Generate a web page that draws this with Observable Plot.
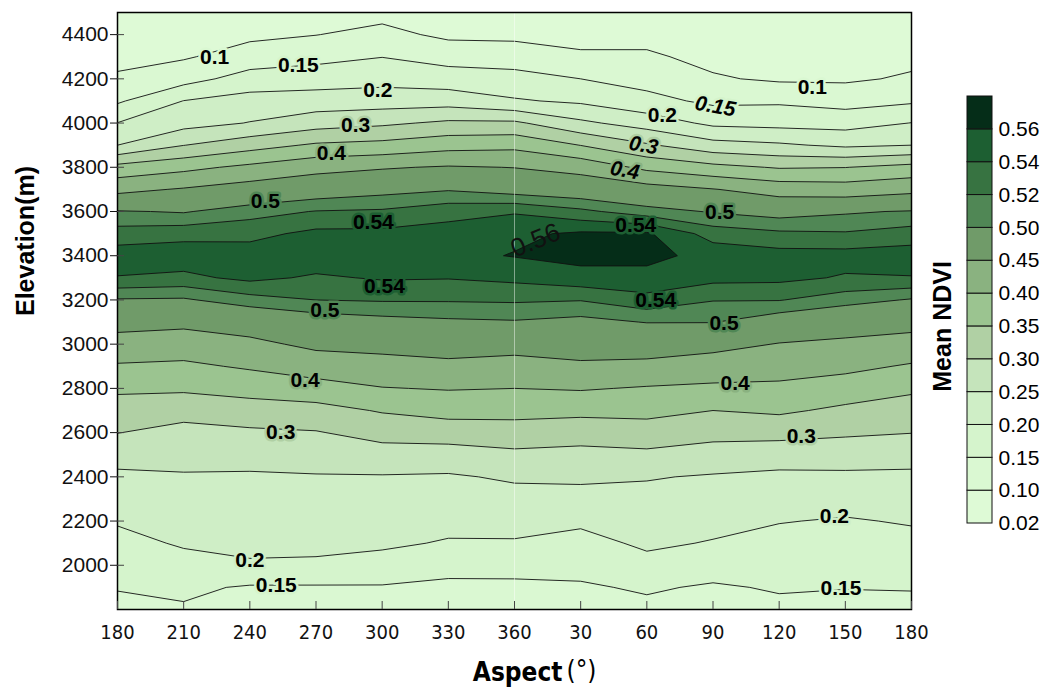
<!DOCTYPE html>
<html>
<head>
<meta charset="utf-8">
<script src="https://cdn.jsdelivr.net/npm/d3@7"></script>
<script src="https://cdn.jsdelivr.net/npm/@observablehq/plot@0.6"></script>
<style>
  body { margin: 0; background: #fff; }
  #wrap { position: relative; width: 1044px; height: 688px; overflow: hidden; }
  #main { position: absolute; left: 0; top: 0; }
  #bar { position: absolute; left: 930px; top: 0; }
</style>
</head>
<body>
<div id="wrap"><div id="main"></div><div id="bar"></div></div>
<script>
// ---------------- DATA ----------------
// elevation rows (m), top to bottom
const elevations = [4500,4400,4300,4200,4100,4000,3900,3800,3700,3600,3500,3400,3300,3200,3100,3000,2900,2800,2700,2600,2500,2400,2300,2200,2100,2000,1900,1800];
// aspect columns on the unwrapped axis (0 = 180° on the left, 180 = 360°, 360 = 180° on the right)
const aspectPositions = [0,30,60,90,120,150,180,210,240,270,300,330,360];
const aspectLabels = ["180","210","240","270","300","330","360","30","60","90","120","150","180"];
const elevTicks = [2000,2200,2400,2600,2800,3000,3200,3400,3600,3800,4000,4200,4400];

// mean NDVI per aspect column, one value per elevation row
const ndvi180W = [0.060,0.075,0.088,0.106,0.143,0.201,0.250,0.366,0.438,0.502,0.529,0.550,0.539,0.498,0.466,0.432,0.395,0.358,0.329,0.301,0.267,0.241,0.222,0.204,0.186,0.169,0.152,0.140];
const ndvi210  = [0.065,0.080,0.095,0.131,0.201,0.232,0.299,0.387,0.454,0.498,0.533,0.552,0.535,0.497,0.461,0.426,0.391,0.358,0.316,0.286,0.265,0.246,0.232,0.218,0.205,0.184,0.159,0.145];
const ndvi240  = [0.070,0.090,0.121,0.171,0.219,0.252,0.330,0.411,0.472,0.512,0.534,0.550,0.545,0.512,0.473,0.439,0.406,0.368,0.328,0.292,0.265,0.245,0.234,0.222,0.211,0.195,0.145,0.135];
const ndvi270  = [0.075,0.099,0.135,0.177,0.223,0.278,0.357,0.435,0.484,0.521,0.545,0.553,0.537,0.520,0.486,0.460,0.425,0.380,0.333,0.297,0.270,0.247,0.235,0.223,0.211,0.193,0.145,0.135];
const ndvi300  = [0.085,0.114,0.149,0.184,0.226,0.291,0.365,0.446,0.492,0.523,0.545,0.553,0.542,0.522,0.492,0.464,0.433,0.398,0.354,0.317,0.280,0.247,0.234,0.221,0.208,0.182,0.146,0.135];
const ndvi330  = [0.075,0.090,0.131,0.174,0.228,0.309,0.382,0.454,0.498,0.533,0.548,0.555,0.541,0.522,0.496,0.469,0.440,0.403,0.367,0.324,0.278,0.245,0.229,0.214,0.196,0.165,0.140,0.130];
const ndvi360  = [0.070,0.088,0.128,0.166,0.205,0.309,0.387,0.449,0.489,0.538,0.556,0.561,0.545,0.523,0.498,0.466,0.434,0.400,0.366,0.328,0.290,0.256,0.235,0.216,0.196,0.166,0.140,0.130];
const ndvi30   = [0.070,0.085,0.107,0.150,0.192,0.260,0.349,0.434,0.482,0.525,0.563,0.566,0.553,0.521,0.493,0.470,0.443,0.404,0.363,0.321,0.286,0.259,0.233,0.208,0.185,0.163,0.145,0.135];
const ndvi60   = [0.070,0.085,0.107,0.132,0.165,0.228,0.306,0.388,0.470,0.509,0.563,0.566,0.553,0.534,0.501,0.472,0.439,0.396,0.364,0.328,0.290,0.253,0.237,0.223,0.208,0.186,0.155,0.140];
const ndvi90   = [0.060,0.073,0.087,0.105,0.140,0.189,0.268,0.364,0.452,0.498,0.531,0.553,0.546,0.521,0.501,0.464,0.428,0.391,0.350,0.316,0.278,0.246,0.230,0.214,0.197,0.169,0.145,0.135];
const ndvi120  = [0.055,0.067,0.080,0.093,0.143,0.184,0.257,0.346,0.430,0.490,0.524,0.548,0.545,0.521,0.485,0.448,0.420,0.390,0.358,0.316,0.272,0.240,0.221,0.202,0.185,0.170,0.154,0.140];
const ndvi150  = [0.055,0.067,0.080,0.093,0.131,0.181,0.241,0.349,0.425,0.497,0.522,0.548,0.538,0.509,0.473,0.441,0.412,0.377,0.340,0.307,0.272,0.241,0.218,0.196,0.181,0.166,0.151,0.140];
const ndvi180E = [0.060,0.075,0.088,0.106,0.143,0.201,0.250,0.366,0.438,0.502,0.529,0.550,0.539,0.498,0.466,0.432,0.395,0.358,0.329,0.301,0.267,0.241,0.222,0.204,0.186,0.169,0.152,0.140];

// contour levels and colour-bar labels
const levels = [0.02,0.10,0.15,0.20,0.25,0.30,0.35,0.40,0.45,0.50,0.52,0.54,0.56];
const legendLabels = ["0.02","0.10","0.15","0.20","0.25","0.30","0.35","0.40","0.45","0.50","0.52","0.54","0.56"];

// contour labels (text, aspect position, elevation)
const labelText   = ["0.1","0.15","0.2","0.3","0.4","0.5","0.54","0.54","0.5","0.4","0.3","0.2","0.15","0.1","0.2","0.5","0.54","0.54","0.5","0.4","0.3","0.2","0.15"];
const labelAspect = [44,82,118,108,97,67,116,121,94,85,74,60,72,315,247,273,235,244,275,280,310,325,328];
const labelElev   = [4297,4260,4147,3989,3862,3645,3550,3261,3152,2836,2601,2022,1909,4161,4034,3596,3537,3198,3094,2822,2582,2221,1895];
const italicText   = ["0.15","0.3","0.4"];
const italicAspect = [271,238.5,230];
const italicElev   = [4075,3899,3786];
const peakText = ["0.56"];
const peakAspect = [189.5];
const peakElev = [3469];
const seamAspect = [180];

// ---------------- COLOURS ----------------
const bandColors = ["#defad6","#daf8d2","#d5f4cc","#cfeec6","#c5e4bb","#b0d0a4","#9bc490","#8ab280","#709b69","#508755","#377341","#1d5f32","#052d18"];

// ---------------- BUILD ----------------
const columns = [ndvi180W,ndvi210,ndvi240,ndvi270,ndvi300,ndvi330,ndvi360,ndvi30,ndvi60,ndvi90,ndvi120,ndvi150,ndvi180E];
const nCols = columns.length, nRows = elevations.length;
const grid = [];
for (let r = 0; r < nRows; r++) for (let c = 0; c < nCols; c++) grid.push(columns[c][r]);
const stepA = aspectPositions[1] - aspectPositions[0];
const stepE = elevations[0] - elevations[1];

const labels = labelText.map((t, i) => ({t, a: labelAspect[i], e: labelElev[i]}));
const italics = italicText.map((t, i) => ({t, a: italicAspect[i], e: italicElev[i]}));
const peaks = peakText.map((t, i) => ({t, a: peakAspect[i], e: peakElev[i]}));

const font = "'Liberation Sans', Arial, sans-serif";
const narrow = "'Liberation Sans Narrow', 'Arial Narrow', 'DejaVu Sans Condensed', sans-serif";

const main = Plot.plot({
  width: 930, height: 688,
  marginLeft: 117, marginRight: 19, marginTop: 12, marginBottom: 79,
  style: {fontFamily: font, background: "white", overflow: "visible"},
  x: {domain: [0, 360]},
  y: {domain: [1800, 4500]},
  color: {type: "threshold", domain: levels.slice(1), range: bandColors},
  marks: [
    Plot.contour(grid, {
      width: nCols, height: nRows,
      x1: aspectPositions[0] - stepA / 2, x2: aspectPositions[nCols - 1] + stepA / 2,
      y1: elevations[0] + stepE / 2, y2: elevations[nRows - 1] - stepE / 2,
      fill: Plot.identity, stroke: "#111", strokeWidth: 0.9,
      thresholds: levels, clip: true
    }),
    Plot.ruleX(seamAspect, {x: d => d, stroke: "#fff", strokeOpacity: 0.45, strokeWidth: 1}),
    Plot.text(labels, {x: "a", y: "e", text: "t", fontSize: 21, fontWeight: "bold", fill: "#000",
      stroke: d => +d.t, strokeWidth: 5, paintOrder: "stroke"}),
    Plot.text(italics, {x: "a", y: "e", text: "t", fontSize: 21, fontWeight: "bold", fontStyle: "italic", rotate: 10, fill: "#000",
      stroke: d => +d.t, strokeWidth: 5, paintOrder: "stroke"}),
    Plot.text(peaks, {x: "a", y: "e", text: "t", fontSize: 26, fontWeight: "normal", rotate: -22, fill: "#111"}),
    Plot.frame({stroke: "#000", strokeWidth: 1.5}),
    Plot.axisX(aspectPositions, {tickSize: 0, tickPadding: 15, fontSize: 20, fontFamily: narrow, color: "#111",
      tickFormat: d => aspectLabels[aspectPositions.indexOf(d)], label: null}),
    Plot.tickX(aspectPositions, {x: d => d, insetTop: 589, stroke: "#444"}),
    Plot.axisY(elevTicks, {tickSize: 7, tickPadding: 2, fontSize: 21, color: "#111", tickFormat: d => String(d), label: null}),
    Plot.tickY(elevTicks, {y: d => d, insetRight: 787, stroke: "#444"}),
    Plot.text(["Elevation(m)"], {frameAnchor: "left", dx: -92, dy: 5, rotate: -90, fontSize: 25, fontWeight: "bold", fill: "#000"}),
    Plot.text(["Aspect"], {frameAnchor: "bottom", dx: 48, dy: 71, textAnchor: "end", fontSize: 26, fontWeight: "bold", fontFamily: narrow, fill: "#000"}),
    Plot.text(["(°)"], {frameAnchor: "bottom", dx: 52, dy: 69, textAnchor: "start", fontSize: 26, fontFamily: narrow, fill: "#000"})
  ]
});
document.getElementById("main").appendChild(main);

const bar = Plot.plot({
  width: 114, height: 688,
  marginLeft: 37, marginRight: 52, marginTop: 96, marginBottom: 165,
  style: {fontFamily: font, background: "transparent", overflow: "visible"},
  x: {domain: [0, 1], axis: null},
  y: {domain: [0, bandColors.length], axis: null},
  marks: [
    Plot.rect(bandColors, {x1: 0, x2: 1, y1: (d, i) => i, y2: (d, i) => i + 1, fill: d => d, stroke: "#111", strokeWidth: 1}),
    Plot.text(legendLabels, {x: 1, y: (d, i) => i, text: d => d, dx: 6, textAnchor: "start", fontSize: 21, fill: "#000"}),
    Plot.text(["Mean NDVI"], {x: 0, y: legendLabels.indexOf("0.35"), dx: -25, rotate: -90, fontSize: 25, fontWeight: "bold", fill: "#000"})
  ]
});
document.getElementById("bar").appendChild(bar);
</script>
</body>
</html>
